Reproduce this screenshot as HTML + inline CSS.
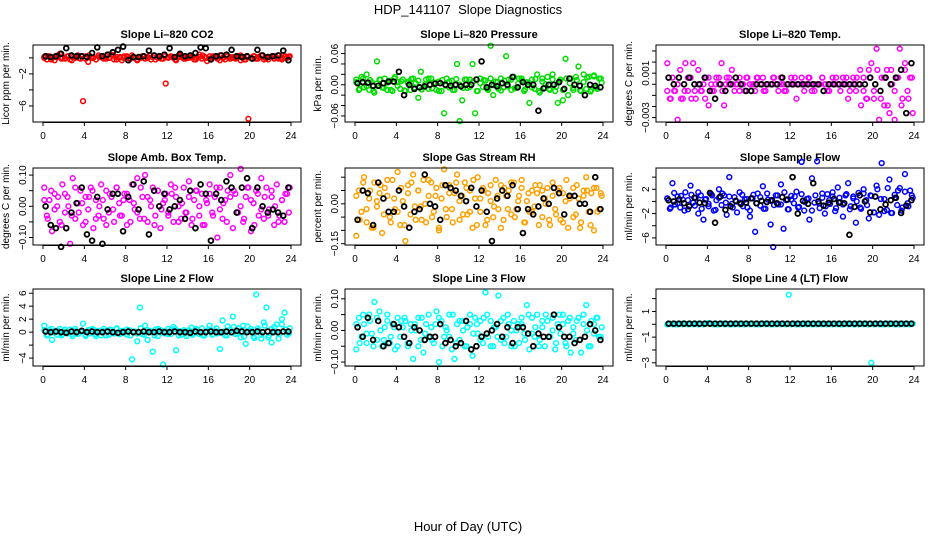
<!DOCTYPE html>
<html><head><meta charset="utf-8">
<style>
html,body{margin:0;padding:0;background:#fff;}
svg{display:block;font-family:"Liberation Sans",sans-serif;}
</style></head>
<body>
<svg id="chart" width="936" height="540" viewBox="0 0 936 540">
<rect x="0" y="0" width="936" height="540" fill="#fff"/>
<text x="468" y="14" text-anchor="middle" font-size="13" style="white-space:pre">HDP_141107&#160; Slope Diagnostics</text>
<text x="468" y="531" text-anchor="middle" font-size="13">Hour of Day (UTC)</text>
</svg>
<script>
const xTicks = [0,4,8,12,16,20,24];

const co2Color = [0.1,-0.2,0.2,0.0,-0.3,0.1,0.5,0.0,-0.1,0.2,-0.2,0.1,0.0,0.3,-0.1,-5.4,0.2,-0.5,0.1,0.0,-0.2,0.3,0.1,-0.1,0.2,0.0,0.4,-0.2,0.1,0.0,-0.3,0.2,0.1,-0.1,0.3,0.0,-0.2,0.1,0.2,-0.1,0.0,0.3,0.1,-0.2,0.0,0.2,-0.1,-3.2,0.1,0.2,0.0,-0.3,0.1,0.3,-0.1,0.0,0.2,0.1,-0.2,0.0,0.4,-0.1,0.1,-0.4,0.2,0.0,0.1,-0.1,0.3,0.0,-0.2,0.2,0.1,0.0,-0.1,0.2,-0.3,0.1,-0.2,-7.6,0.0,0.2,-0.1,0.1,0.3,-0.2,0.0,0.1,0.2,-0.1,0.0,0.3,-0.2,0.1,0.0,0.2];
const co2Color2 = [0.0,0.2,-0.2,0.1,0.3,-0.1,0.0,0.2,-0.3,0.1,0.0,0.2,-0.1,0.3,0.0,-0.2,0.1,0.2,-0.1,0.0,0.3,-0.2,0.1,0.0,0.2,-0.1,0.1,-0.3,0.0,0.2,0.1,-0.2,0.3,0.0,-0.1,0.2,0.0,0.1,-0.2,0.3,0.1,-0.1,0.0,0.2,-0.2,0.1,0.3,0.0,-0.1,0.2,0.1,-0.3,0.0,0.2,-0.1,0.1,0.0,0.3,-0.2,0.1,0.0,0.2,-0.1,0.3,0.0,-0.2,0.1,0.2,-0.1,0.0,0.2,0.1];
const co2Black = [0.2,0.1,0.2,0.5,1.2,0.3,0.2,0.2,0.1,0.6,1.3,0.2,0.4,0.7,1.0,1.4,-0.3,0.1,0.1,0.2,0.9,0.3,0.2,0.4,1.2,0.1,0.5,0.2,0.3,0.6,1.3,1.2,-0.2,0.2,0.3,0.4,1.0,0.2,0.1,0.2,-0.1,1.0,0.3,0.1,0.2,0.3,0.9,-0.3];

const presColor = [0.01,-0.01,0.015,-0.005,0.02,-0.01,0.005,-0.015,0.045,0.01,-0.005,0.012,-0.01,0.008,-0.012,0.015,0.005,-0.008,0.01,-0.012,0.006,-0.01,0.012,0.003,-0.025,0.025,-0.005,0.01,-0.008,0.012,0.004,-0.01,0.006,-0.012,-0.055,0.012,-0.005,0.008,-0.01,0.04,-0.07,-0.03,0.01,-0.006,0.01,0.04,-0.055,-0.012,0.012,-0.004,0.008,-0.01,0.075,-0.02,0.006,-0.008,0.012,-0.005,0.055,0.01,-0.01,0.015,-0.006,0.012,0.008,-0.012,0.005,-0.035,0.01,-0.008,0.02,-0.015,0.012,-0.006,0.015,-0.01,0.02,-0.012,-0.035,0.01,-0.03,0.05,-0.02,0.012,-0.01,0.015,0.035,-0.012,0.02,-0.008,0.015,-0.01,0.018,-0.005,0.012,0.004];
const presColor2 = [0.005,-0.008,0.012,-0.003,0.009,-0.012,0.002,0.010,-0.006,0.004,-0.010,0.012,-0.002,0.007,-0.011,0.003,0.011,-0.005,0.008,-0.009,0.001,0.012,-0.007,0.004,-0.012,0.009,-0.002,0.006,-0.010,0.011,0.000,-0.006,0.010,-0.004,0.007,-0.012,0.003,0.009,-0.008,0.012,-0.001,0.005,-0.011,0.008,-0.003,0.010,-0.007,0.002,0.012,-0.009,0.004,-0.005,0.011,-0.012,0.006,0.001,-0.008,0.010,-0.004,0.007,-0.010,0.012,0.003,-0.006,0.009,-0.011,0.005,0.014,-0.013,0.016,-0.008,0.012];
const presBlack = [0.003,0.005,0.004,-0.002,-0.002,0.003,0.006,0.006,0.025,-0.02,0.0,-0.008,-0.005,-0.003,0.0,0.002,0.003,0.0,-0.002,0.0,-0.003,0.0,0.0,0.01,0.045,-0.005,0.0,-0.003,0.003,0.0,0.015,-0.005,0.005,0.0,0.0,-0.05,-0.007,0.0,0.0,0.005,-0.008,0.012,0.0,-0.002,-0.02,0.0,-0.002,-0.005];

const tempColor = [0.0019,-0.0013,0.0006,-0.0006,-0.0032,0.0013,-0.0013,0.0019,-0.0006,0.0006,0.0019,-0.0013,0.0013,-0.0006,0,0.0006,-0.0019,0,-0.0006,0.0006,0,0.0019,-0.0019,0.0006,0,0.0013,-0.0006,0,0.0006,0,-0.0006,0.0006,0,0,-0.0006,0.0006,0,0.0006,-0.0006,0,0,0.0006,0,-0.0006,0.0006,0,-0.0006,0,0.0006,0,-0.0013,0,0.0006,-0.0006,0,0.0006,0,-0.0006,0,0,0.0006,0,-0.0006,0,0.0006,0,0,-0.0006,0.0006,0,-0.0013,0,0.0006,-0.0006,0,-0.0019,0.0006,-0.0013,0.0013,0.0019,-0.0013,0.0032,-0.0032,0.0006,-0.0019,0.0013,-0.0026,0,-0.0032,0.0006,0.0032,-0.0013,0.0019,-0.0006,0.0006,-0.0026];
const tempColor2 = [-0.0006,-0.0013,-0.0006,0,-0.0013,-0.0006,0.0006,-0.0013,-0.0006,0,-0.0006,-0.0013,0.0006,-0.0006,0,0.0006,-0.0006,0,0.0006,0,0,-0.0006,0,0.0006,0,0,0.0006,0,-0.0006,0,0,0.0006,0,0,-0.0006,0,0,0.0006,0,0,0,0.0006,-0.0006,0,0,0.0006,0,-0.0006,0,0.0006,0,0,0.0006,-0.0006,0,0.0006,0.0013,-0.0006,-0.0013,0.0006,-0.0006,0.0013,-0.0013,0.0006,-0.0019,0.0013,-0.0006,0.0006,-0.0019,0.0013,-0.0013,0.0006];
const tempBlack = [0.0006,0,0.0006,0,0.0006,0,0,0.0006,-0.0006,-0.0013,0,-0.0006,0,0.0006,0,-0.0006,-0.0006,0,0,0,0,0,0.0006,0,0,0,0,0,0,0,-0.0006,0,0,0,0,0,0,0,0,0.0006,0,-0.0006,0.0006,0,0.0006,0.0013,-0.0026,0.0019];

const ambColor = [0.06,-0.03,0.02,-0.08,0.04,0.00,-0.05,0.07,-0.02,0.03,-0.12,0.09,-0.04,0.01,0.05,-0.06,0.03,-0.01,0.06,-0.07,0.02,-0.03,0.07,-0.04,0.05,-0.02,0.03,-0.05,0.06,0.01,-0.03,0.04,-0.06,0.02,0.07,-0.01,0.09,-0.04,0.03,0.10,-0.05,0.02,0.06,-0.03,0.05,-0.07,0.01,0.04,-0.02,0.07,-0.05,0.03,0.00,-0.04,0.06,-0.02,0.08,-0.06,0.02,0.05,-0.03,0.04,-0.06,0.01,0.07,-0.02,0.03,-0.10,0.06,-0.04,0.02,0.05,0.10,-0.07,0.04,-0.02,0.12,-0.05,0.03,0.06,-0.08,0.01,0.05,-0.03,0.09,-0.04,0.06,-0.01,0.03,-0.06,0.07,-0.03,0.02,-0.05,0.04,0.06];
const ambColor2 = [0.02,-0.04,0.05,-0.01,0.03,-0.06,0.04,0.00,-0.03,0.06,-0.02,0.01,-0.05,0.03,0.05,-0.04,0.00,0.02,-0.06,0.04,-0.01,0.06,-0.03,0.02,0.04,-0.05,0.01,-0.02,0.06,-0.04,0.03,0.00,-0.06,0.05,-0.01,0.02,-0.03,0.04,0.06,-0.05,0.01,-0.02,0.03,-0.04,0.05,0.00,-0.06,0.02,0.04,-0.03,0.06,-0.01,0.01,-0.05,0.03,0.05,-0.02,0.00,-0.04,0.06,0.02,-0.06,0.04,-0.01,0.03,-0.03,0.05,0.00,-0.05,0.02,0.04,-0.02];
const ambBlack = [0.00,-0.06,-0.07,-0.13,-0.07,-0.02,0.01,0.06,-0.09,-0.11,0.03,-0.12,-0.01,0.04,0.04,-0.08,0.03,0.07,-0.01,0.08,-0.09,0.05,0.00,0.04,-0.01,0.00,0.02,-0.04,0.05,-0.07,0.07,0.04,-0.11,0.04,0.02,0.08,0.06,-0.02,0.06,0.09,-0.07,0.06,0.00,-0.02,-0.01,-0.02,-0.03,0.06];

const rhColor = [-0.12,0.05,-0.03,0.10,-0.07,0.02,-0.09,0.08,-0.01,0.04,-0.11,0.06,0.03,-0.05,0.09,-0.02,0.12,-0.08,0.01,-0.14,0.07,-0.04,0.11,-0.06,0.05,-0.01,0.09,-0.07,0.03,0.08,-0.03,0.06,-0.10,0.02,0.13,-0.05,0.07,-0.02,0.04,0.11,-0.06,0.03,0.08,-0.04,0.05,-0.09,0.02,0.10,-0.03,0.06,-0.08,0.04,0.01,-0.05,0.09,-0.02,0.07,-0.06,0.03,0.05,-0.04,0.08,-0.02,0.03,0.06,-0.07,0.01,-0.03,0.05,-0.01,0.04,0.07,-0.05,0.02,0.06,-0.08,0.03,-0.02,0.05,-0.06,0.04,0.01,-0.09,0.03,0.06,-0.04,0.02,-0.07,0.05,0.10,-0.03,0.04,-0.10,0.06,-0.02,0.03];
const rhColor2 = [0.03,-0.06,0.08,-0.02,0.05,-0.09,0.01,0.07,-0.04,0.09,-0.07,0.02,-0.03,0.06,-0.08,0.04,0.08,-0.01,0.05,-0.06,0.00,0.09,-0.05,0.03,-0.09,0.07,-0.02,0.04,-0.07,0.08,0.01,-0.04,0.06,-0.03,0.09,-0.08,0.02,0.05,-0.06,0.07,-0.01,0.03,-0.09,0.06,-0.02,0.08,-0.05,0.01,0.09,-0.07,0.04,-0.03,0.07,-0.08,0.05,0.00,-0.06,0.08,-0.04,0.06,-0.07,0.09,0.02,-0.05,0.07,-0.09,0.03,0.05,-0.08,0.06,-0.03,0.04];
const rhBlack = [-0.06,0.05,0.04,-0.08,0.08,0.02,-0.03,-0.03,0.05,-0.01,-0.09,-0.03,-0.02,0.11,0.00,-0.01,-0.06,0.07,0.06,0.05,0.03,0.01,0.06,-0.01,0.05,-0.03,-0.14,0.02,0.05,0.03,0.07,-0.02,-0.11,-0.02,-0.04,-0.01,0.02,0.00,0.06,0.04,-0.04,0.03,0.03,0.00,0.00,-0.03,0.10,-0.02];

const flowColor = [0.5,-1.2,3.0,-0.5,0.8,-1.0,0.3,1.5,-1.3,2.6,-0.2,0.6,-2.0,1.0,-3.0,0.4,-0.8,1.2,-1.5,0.2,2.0,-0.6,1.0,-2.2,4.0,-0.4,0.7,-1.8,-0.2,1.1,0.3,-1.0,-2.5,0.5,-5.0,1.3,-0.7,2.5,-1.2,0.3,-3.8,-7.5,1.0,-0.5,2.8,-4.5,0.2,-1.3,0.9,-0.3,1.6,-0.9,6.5,-1.5,0.4,-3.0,3.8,-0.2,6.6,-1.1,0.6,-2.0,1.2,-0.4,0.8,-1.6,2.3,-0.1,-2.5,1.0,3.0,-0.8,0.5,-3.5,1.4,-1.2,2.0,0.2,-2.8,0.9,-1.8,2.6,-2.2,6.3,0.4,-1.4,3.6,-1.9,1.1,-0.6,2.2,-1.0,4.5,-0.3,1.8,0.6];
const flowColor2 = [0.5,-1.0,1.4,-0.3,0.9,-1.5,0.2,1.1,-0.7,1.5,-1.2,0.3,-0.4,1.0,-1.4,0.6,1.3,-0.2,0.8,-1.0,0.0,1.5,-0.8,0.4,-1.5,1.1,-0.3,0.7,-1.2,1.3,0.1,-0.6,1.0,-0.5,1.5,-1.3,0.3,0.8,-1.0,1.2,-0.1,0.5,-1.5,1.0,-0.3,1.3,-0.8,0.2,1.5,-1.1,0.6,-0.5,1.2,-1.3,0.8,0.0,-1.0,1.3,-0.6,1.0,-1.8,2.0,0.4,-1.6,2.2,-1.9,0.6,1.8,-1.5,1.6,-0.8,1.0];
const flowBlack = [0.2,0.0,0.3,-0.3,-0.8,0.6,-0.2,-0.3,1.4,-3.5,0.8,-1.4,-0.8,0.1,-0.4,-0.2,0.5,-0.3,0.1,-0.1,0.2,-0.3,0.7,0.3,4.0,-2.0,0.1,-0.4,3.0,0.0,-0.7,-0.2,0.4,-0.2,-0.3,-5.5,-0.9,1.0,0.0,-1.8,0.8,-1.3,-0.5,0.2,0.6,-1.9,-0.7,0.2];

const line2Color = [1.0,-0.5,0.3,-1.2,0.2,-0.4,0.5,-0.3,0.1,-0.2,0.4,-0.6,0.2,-0.3,0.1,1.3,-0.6,0.3,-0.2,0.4,-0.3,0.2,-0.5,0.5,0.1,-0.4,0.3,-0.2,0.6,-0.3,0.2,-0.1,-0.4,0.3,-4.2,0.1,-1.4,3.8,-0.3,1.0,-1.2,0.2,-3.0,0.4,-0.6,0.3,-5.0,-0.2,0.5,-0.3,0.8,-2.8,0.2,-0.4,0.3,-0.6,0.1,0.7,-0.2,0.4,-0.3,0.6,-0.5,0.2,1.0,-0.4,0.3,-0.2,-2.6,1.8,-0.5,0.9,0.4,2.4,-0.3,0.6,-0.8,1.0,-1.8,0.2,0.5,-0.7,5.8,0.3,-1.0,1.5,3.8,-0.5,-1.6,0.8,1.2,-0.3,2.0,3.0,-0.4,0.6];
const line2Color2 = [0.3,-0.4,0.5,-0.1,0.2,-0.5,0.4,0.0,-0.3,0.5,-0.2,0.1,-0.4,0.3,0.5,-0.6,0.0,0.2,-0.5,0.4,-0.1,0.5,-0.3,0.2,0.4,-0.5,0.1,-0.2,0.6,-0.4,0.3,0.0,-0.5,0.5,-0.1,0.2,-0.3,0.4,0.5,-0.5,0.1,-0.2,0.3,-0.4,0.5,0.0,-0.5,0.2,0.4,-0.3,0.6,-0.1,0.1,-0.5,0.3,0.8,-0.2,0.0,-0.7,0.9,0.2,-0.9,0.6,-0.4,1.0,-0.8,0.5,0.0,-1.0,1.2,0.4,-0.2];
const line2Black = [0.1,0.0,0.1,0.0,-0.1,0.1,0.0,0.2,0.0,0.1,0.0,0.0,0.1,0.0,-0.1,0.0,0.1,0.0,0.0,0.1,0.0,0.0,0.1,0.0,0.0,0.1,0.0,0.0,-0.1,0.1,0.0,0.0,0.1,0.0,0.0,0.1,0.0,0.2,0.1,0.0,0.0,0.1,0.0,0.1,0.0,0.0,0.1,0.1];

const line3Color = [-0.06,0.04,-0.02,0.02,-0.04,0.05,-0.01,0.09,-0.03,0.06,-0.05,0.01,0.03,-0.04,0.02,-0.06,0.04,-0.02,0.01,0.03,-0.05,0.02,-0.09,0.00,0.04,-0.03,-0.07,0.02,-0.02,0.01,-0.04,0.06,-0.10,0.03,-0.02,0.00,0.05,-0.06,-0.09,0.02,-0.03,0.03,-0.05,0.01,0.02,-0.08,0.04,-0.01,0.03,-0.04,0.12,-0.02,0.03,-0.05,0.01,0.11,-0.03,0.04,-0.02,0.02,-0.05,0.03,0.00,-0.04,0.02,-0.01,0.08,-0.06,0.04,-0.02,0.05,-0.03,0.01,-0.05,0.03,-0.02,0.04,-0.06,0.02,-0.01,0.05,-0.04,0.03,-0.07,0.01,-0.03,0.04,-0.07,0.02,0.08,-0.05,0.03,-0.01,0.04,-0.02,0.01];
const line3Color2 = [0.02,-0.04,0.05,-0.01,0.03,-0.05,0.04,0.00,-0.03,0.05,-0.02,0.01,-0.05,0.03,0.04,-0.04,0.00,0.02,-0.05,0.04,-0.01,0.05,-0.03,0.02,0.04,-0.05,0.01,-0.02,0.05,-0.04,0.03,0.00,-0.05,0.05,-0.01,0.02,-0.03,0.04,0.05,-0.05,0.01,-0.02,0.03,-0.04,0.05,0.00,-0.05,0.02,0.04,-0.03,0.05,-0.01,0.01,-0.05,0.03,0.05,-0.02,0.00,-0.04,0.05,0.02,-0.05,0.04,-0.01,0.03,-0.03,0.05,0.00,-0.05,0.02,0.04,-0.02];
const line3Black = [0.01,-0.02,0.04,-0.03,0.03,-0.05,-0.04,0.02,0.01,-0.02,-0.04,0.01,0.00,-0.03,-0.02,-0.02,0.02,-0.04,-0.03,-0.05,-0.04,0.03,-0.06,-0.05,-0.02,-0.01,0.00,0.02,-0.02,0.01,-0.04,0.01,0.01,-0.01,-0.05,-0.01,-0.02,-0.02,0.05,0.01,-0.02,-0.02,-0.04,-0.03,-0.02,0.02,0.00,-0.03];

const line4Color = [0.0,0.05,0.0,0.05,0.0,0.05,0.0,0.05,0.0,0.05,0.0,0.05,0.0,0.05,0.0,0.05,0.1,0.05,0.0,0.05,0.0,0.05,0.0,0.05,0.0,0.05,0.0,0.05,0.0,0.05,0.0,0.05,0.0,0.05,0.0,0.05,0.0,0.05,0.0,0.05,0.0,0.05,0.0,0.05,0.0,0.05,0.0,2.3,0.0,0.05,0.0,0.05,0.0,0.05,0.0,0.05,0.0,0.05,0.0,0.05,0.0,0.05,0.0,0.05,0.0,0.05,0.0,0.05,0.0,0.05,0.0,0.05,0.0,0.05,0.0,0.05,0.0,0.05,0.0,-3.0,0.0,0.05,0.0,0.05,0.0,0.05,0.0,0.05,0.0,0.05,0.0,0.05,0.0,0.05,0.0,0.05];
const line4Color2 = [0.05,0.0,0.05,0.0,0.05,0.0,0.05,0.0,0.05,0.0,0.05,0.0,0.05,0.0,0.05,0.0,0.05,0.0,0.05,0.0,0.05,0.0,0.05,0.0,0.05,0.0,0.05,0.0,0.05,0.0,0.05,0.0,0.05,0.0,0.05,0.0];
const line4Black = [0.05,0.05,0.05,0.05,0.05,0.05,0.05,0.05,0.05,0.05,0.05,0.05,0.05,0.05,0.05,0.05,0.05,0.05,0.05,0.05,0.05,0.05,0.05,0.05,0.05,0.05,0.05,0.05,0.05,0.05,0.05,0.05,0.05,0.05,0.05,0.05,0.05,0.05,0.05,0.05,0.05,0.05,0.05,0.05,0.05,0.05,0.05,0.05];

const panelTitles = ["Slope Li\u2013820 CO2","Slope Li\u2013820 Pressure","Slope Li\u2013820 Temp.","Slope Amb. Box Temp.","Slope Gas Stream RH","Slope Sample Flow","Slope Line 2 Flow","Slope Line 3 Flow","Slope Line 4 (LT) Flow"];
const yTitles = ["Licor ppm per min.","kPa per min.","degrees C per min.","degrees C per min.","percent per min.","ml/min per min.","ml/min per min.","ml/min per min.","ml/min per min."];
const yTickVals = [[0,-2,-4,-6],[-0.06,-0.04,-0.02,0,0.02,0.04,0.06],[-0.003,-0.002,-0.001,0,0.001,0.002,0.003],[-0.1,-0.05,0,0.05,0.1],[-0.15,-0.1,-0.05,0,0.05,0.1],[-6,-4,-2,0,2,4],[-4,-2,0,2,4,6],[-0.1,-0.05,0,0.05,0.1],[-3,-2,-1,0,1,2]];
const yTickLabelVals = [[-2,-6],[-0.06,0,0.06],[-0.003,0.001],[-0.1,0,0.1],[-0.15,0],[-6,-2,2],[-4,0,2,4,6],[-0.1,0,0.1],[-3,-1,1]];
const yTickLabelText = [["\u22122","\u22126"],["\u22120.06","0.00","0.06"],["\u22120.003","0.001"],["\u22120.10","0.00","0.10"],["\u22120.15","0.00"],["\u22126","\u22122","2"],["\u22124","0","2","4","6"],["\u22120.10","0.00","0.10"],["\u22123","\u22121","1"]];
const yLimits = [[-8,1.6],[-0.0717,0.0765],[-0.0034,0.00354],[-0.124,0.1227],[-0.155,0.1347],[-7.17,5.5],[-5.22,6.65],[-0.1125,0.131],[-3.25,2.75]];
const colorSeries = [co2Color,presColor,tempColor,ambColor,rhColor,flowColor,line2Color,line3Color,line4Color];
const colorSeries2 = [co2Color2,presColor2,tempColor2,ambColor2,rhColor2,flowColor2,line2Color2,line3Color2,line4Color2];
const blackSeries = [co2Black,presBlack,tempBlack,ambBlack,rhBlack,flowBlack,line2Black,line3Black,line4Black];
const seriesColors = ["#ff0000","#00dd00","#ff00ff","#ff00ff","#ffa000","#0000ff","#00ffff","#00ffff","#00ffff"];
const panelNames = ["co2","pressure","licor-temp","amb-box-temp","gas-stream-rh","sample-flow","line2-flow","line3-flow","line4-flow"];

const NS="http://www.w3.org/2000/svg";
const svg=document.getElementById('chart');
const colLeft=[33,345,656], rowTop=[45,168,289], BW=268, BH=77;
function mk(tag,attrs,parent){const e=document.createElementNS(NS,tag);for(const k in attrs)e.setAttribute(k,attrs[k]);(parent||svg).appendChild(e);return e;}

for(let p=0;p<9;p++){
  const L=colLeft[p%3], T=rowTop[Math.floor(p/3)], B=T+BH, R=L+BW;
  const lo=yLimits[p][0], hi=yLimits[p][1];
  const xs=h=>L+10+h/24*248;
  const ys=v=>B-(v-lo)/(hi-lo)*BH;
  const g=mk('g',{});
  
  
  const t=mk('text',{x:(L+R)/2,y:T-7,'text-anchor':'middle','font-size':11,'font-weight':'bold'},g);
  t.textContent=panelTitles[p];
  
  
  const yt=mk('text',{x:0,y:0,'text-anchor':'middle','font-size':10,transform:`translate(${L-24},${(T+B)/2}) rotate(-90)`},g);
  yt.textContent=yTitles[p];
  
  
  [colorSeries[p],colorSeries2[p]].forEach((cs,k)=>{
    for(let i=0;i<cs.length;i++){
      const off=k?0.37:0.5;
      const c=mk('circle',{cx:xs((i+off)*24/cs.length),cy:ys(cs[i]),r:2.4,fill:'none',stroke:seriesColors[p],'stroke-width':1.5},g);
      
      
    }
  });
  const bs=blackSeries[p];
  for(let i=0;i<bs.length;i++){
    const c=mk('circle',{cx:xs((i+0.5)*24/bs.length),cy:ys(bs[i]),r:2.4,fill:'none',stroke:'#000','stroke-width':1.8},g);
    
    
  }
  const box=mk('rect',{x:L,y:T,width:BW,height:BH,fill:'none',stroke:'#000','stroke-width':1},g);
  
  
  mk('line',{x1:xs(0),x2:xs(24),y1:B+0.5,y2:B+0.5,stroke:'#000'},g);
  xTicks.forEach(h=>{
    mk('line',{x1:xs(h),x2:xs(h),y1:B,y2:B+4,stroke:'#000'},g);
    const tx=mk('text',{x:xs(h),y:B+17,'text-anchor':'middle','font-size':10},g);
    tx.textContent=h;
    
    
  });
  yTickVals[p].forEach(v=>{mk('line',{x1:L-4,x2:L,y1:ys(v),y2:ys(v),stroke:'#000'},g);});
  yTickLabelVals[p].forEach((v,i)=>{
    const tx=mk('text',{x:0,y:0,'text-anchor':'middle','font-size':10,transform:`translate(${L-7},${ys(v)}) rotate(-90)`},g);
    tx.textContent=yTickLabelText[p][i];
    
    
  });
}
</script>
</body></html>
